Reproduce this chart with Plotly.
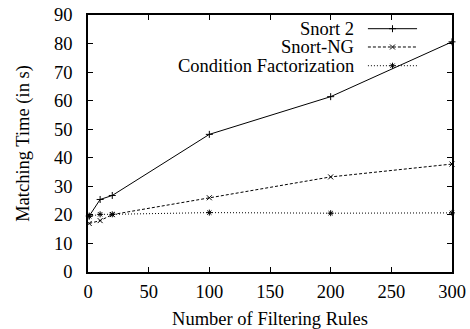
import plotly.graph_objects as go

rules = [1, 10, 20, 100, 200, 300]
snort2 = [19.6, 25.4, 26.8, 48.2, 61.4, 80.6]
snort_ng = [17.0, 18.0, 20.1, 26.0, 33.3, 37.8]
cond_fact = [19.5, 20.2, 20.2, 20.8, 20.6, 20.7]

series_names = ["Snort 2", "Snort-NG", "Condition Factorization"]
series_vals = [snort2, snort_ng, cond_fact]
dashes = ["solid", "3px,2px", "1px,2px"]
symbols = ["cross-thin-open", "x-thin-open", "asterisk-open"]

x_ticks = [0, 50, 100, 150, 200, 250, 300]
y_ticks = [0, 10, 20, 30, 40, 50, 60, 70, 80, 90]

font = "Liberation Serif"
fs = 18.5
fig = go.Figure()
for name, vals, d, s in zip(series_names, series_vals, dashes, symbols):
    fig.add_trace(go.Scatter(
        x=rules, y=vals, mode="lines+markers", name=name,
        line=dict(color="black", width=1, dash=d),
        marker=dict(symbol=s, size=5, color="black", line=dict(width=1, color="black")),
        showlegend=False, cliponaxis=False))

# legend (gnuplot style: text right, sample on the right)
leg_y = [0.9467, 0.8755, 0.8027]
for name, y, d, s in zip(series_names, leg_y, dashes, symbols):
    fig.add_annotation(x=0.7335, y=y, xref="paper", yref="paper", text=name,
                       showarrow=False, xanchor="right", yanchor="middle",
                       borderpad=0, height=16, valign="middle",
                       font=dict(family=font, size=fs, color="black"))
    fig.add_shape(type="line", xref="paper", yref="paper", x0=0.769, x1=0.904,
                  y0=y, y1=y, line=dict(color="black", width=1, dash=d))
    fig.add_trace(go.Scatter(x=[0.8365], y=[y], xaxis="x2", yaxis="y2", mode="markers",
                             marker=dict(symbol=s, size=5, color="black",
                                         line=dict(width=1, color="black")),
                             showlegend=False, hoverinfo="skip"))

axis_common = dict(showgrid=False, zeroline=False, showline=True, linecolor="black",
                   linewidth=1.5, mirror="ticks", ticks="inside", ticklen=5,
                   tickcolor="black", tickwidth=1, automargin=False,
                   tickfont=dict(family=font, size=fs, color="black"))
fig.update_layout(
    width=470, height=329, plot_bgcolor="white", paper_bgcolor="white",
    margin=dict(l=88, r=18, t=15, b=57),
    font=dict(family=font, size=fs, color="black"),
    xaxis=dict(range=[0, 300], tickvals=x_ticks, ticklabelstandoff=2,
               title=dict(text="Number of Filtering Rules", standoff=11,
                          font=dict(family=font, size=fs, color="black")),
               **axis_common),
    yaxis=dict(range=[0, 90], tickvals=y_ticks, ticklabelstandoff=10,
               title=dict(text="Matching Time (in s)", standoff=20,
                          font=dict(family=font, size=fs, color="black")),
               **axis_common),
    xaxis2=dict(range=[0, 1], overlaying="x", visible=False),
    yaxis2=dict(range=[0, 1], overlaying="y", visible=False),
    showlegend=False,
)
fig.write_html("out.html")
